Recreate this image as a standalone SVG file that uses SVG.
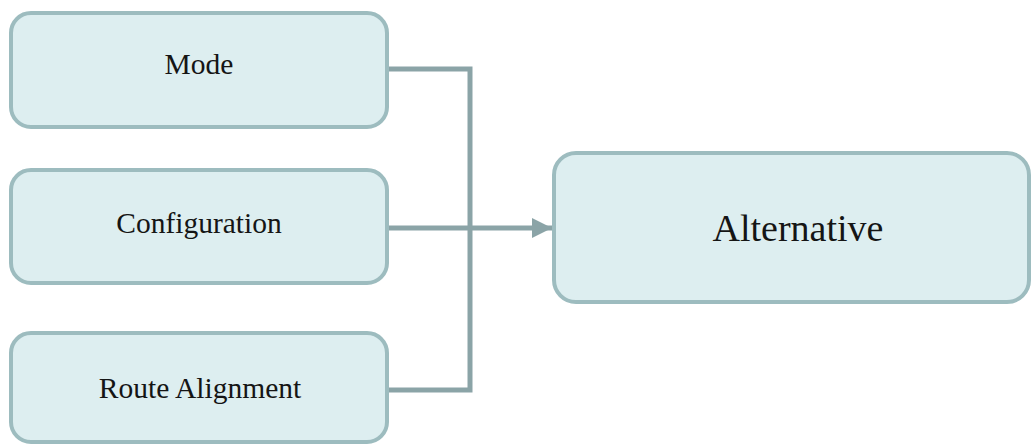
<svg xmlns="http://www.w3.org/2000/svg" width="1032" height="444" viewBox="0 0 1032 444">
<defs>
<style>
.box{fill:#ddeef0;stroke:#9dbcbf;stroke-width:4}
.lbl{font-family:"Liberation Serif","DejaVu Serif",serif;fill:#151515;text-anchor:middle}
.s{font-size:29.5px}
.l{font-size:38px}
.conn{fill:none;stroke:#8ba4a7;stroke-width:5}
</style>
<marker id="arr" markerUnits="userSpaceOnUse" markerWidth="22" markerHeight="20" refX="20" refY="10" orient="auto">
<path d="M0,0 L20,10 L0,20 Z" fill="#8ba4a7"/>
</marker>
</defs>
<rect width="1032" height="444" fill="#ffffff"/>
<g id="connectors">
<path class="conn" d="M388,69 H470 V390 H388"/>
<path class="conn" d="M388,228 H552" marker-end="url(#arr)"/>
</g>
<g id="mode">
<rect class="box" x="11" y="13" width="376" height="114" rx="20"/>
<text class="lbl s" x="199" y="74">Mode</text>
</g>
<g id="configuration">
<rect class="box" x="11" y="170" width="376" height="113" rx="20"/>
<text class="lbl s" x="199" y="233">Configuration</text>
</g>
<g id="route-alignment">
<rect class="box" x="11" y="333" width="376" height="109" rx="20"/>
<text class="lbl s" x="200" y="398">Route Alignment</text>
</g>
<g id="alternative">
<rect class="box" x="554" y="153" width="475" height="149" rx="22"/>
<text class="lbl l" x="798" y="241">Alternative</text>
</g>
</svg>
